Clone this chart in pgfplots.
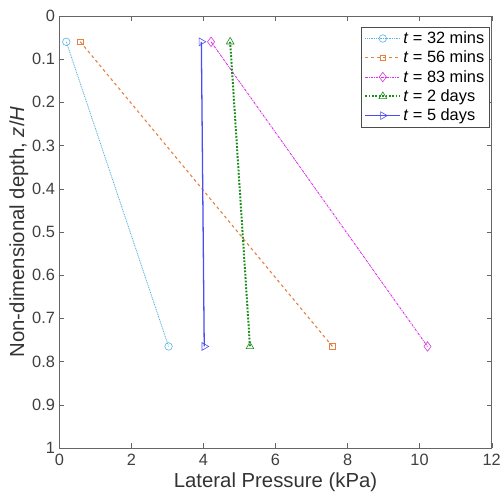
\documentclass[border=0pt]{standalone}
\usepackage{pgfplots}
\pgfplotsset{compat=1.18}
\usepackage{fontspec}
\setmainfont{Liberation Sans}
\definecolor{c1}{rgb}{0.35,0.70,0.88}
\definecolor{c2}{rgb}{0.90,0.50,0.25}
\definecolor{c3}{rgb}{0.85,0.20,0.90}
\definecolor{c4}{rgb}{0.10,0.55,0.10}
\definecolor{c5}{rgb}{0.30,0.30,0.95}
\definecolor{axc}{rgb}{0.40,0.40,0.40}
\begin{document}
\begin{tikzpicture}
\begin{axis}[
  scale only axis, width=436pt, height=436pt,
  xmin=0, xmax=12, ymin=0, ymax=1, y dir=reverse,
  xtick={0,2,...,12},
  ytick={0,0.1,0.2,0.3,0.4,0.5,0.6,0.7,0.8,0.9,1},
  yticklabels={0,0.1,0.2,0.3,0.4,0.5,0.6,0.7,0.8,0.9,1},
  tick align=inside, major tick length=5pt,
  axis line style={axc}, tick style={axc},
  every tick label/.append style={font=\fontsize{16.5}{18}\selectfont, text=black!75},
  xticklabel style={yshift=-3pt},
  yticklabel style={xshift=-1pt},
  /pgf/number format/assume math mode=true,
  xlabel={Lateral Pressure (kPa)},
  ylabel={Non-dimensional depth, \textit{z}/\textit{H}},
  label style={font=\fontsize{20.5}{22}\selectfont, text=black!80},
  xlabel style={yshift=0pt},
  ylabel style={yshift=-3pt},
  legend style={at={(0.995,0.975)}, anchor=north east, draw=black!70, font=\fontsize{16.5}{18}\selectfont, row sep=2pt, inner sep=3pt},
  legend cell align=left,
  legend image code/.code={\draw[mark repeat=2,mark phase=2,#1] plot coordinates {(0cm,0cm) (0.62cm,0cm) (1.24cm,0cm)};},
]
\addplot[c1, line width=0.8pt, dash pattern=on 1pt off 0.8pt, mark=o, mark size=3.8pt, mark options={solid, line width=0.6pt}] coordinates {(0.19,0.06) (3.03,0.765)};
\addlegendentry{\textit{t} = 32 mins}
\addplot[c2, line width=1.1pt, dash pattern=on 3pt off 3pt, mark=square, mark size=3pt, mark options={solid, line width=0.6pt}] coordinates {(0.58,0.06) (7.58,0.765)};
\addlegendentry{\textit{t} = 56 mins}
\addplot[c3, line width=0.9pt, dash pattern=on 2.5pt off 1pt on 0.8pt off 1pt, mark=diamond, mark size=4.8pt, mark options={solid, line width=0.6pt}] coordinates {(4.21,0.06) (10.22,0.765)};
\addlegendentry{\textit{t} = 83 mins}
\addplot[c4, line width=2pt, dash pattern=on 1.8pt off 1.6pt, mark=triangle, mark size=4.5pt, mark options={solid, line width=0.6pt}] coordinates {(4.74,0.06) (5.29,0.765)};
\addlegendentry{\textit{t} = 2 days}
\addplot[c5, line width=1.3pt, mark=triangle, mark size=4.5pt, mark options={solid, rotate=-90, line width=0.6pt}] coordinates {(3.94,0.06) (4.02,0.765)};
\addlegendentry{\textit{t} = 5 days}
\end{axis}
\path ([yshift=16pt]current axis.north west) ([xshift=-60pt]current axis.west);
\end{tikzpicture}
\end{document}
